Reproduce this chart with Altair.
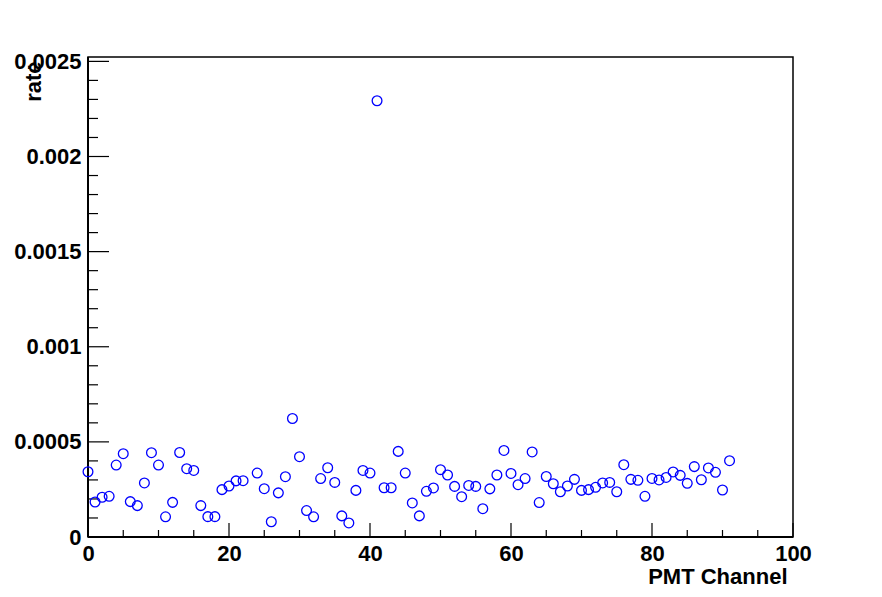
import altair as alt
import pandas as pd

channels = [0, 1, 2, 3, 4, 5, 6, 7, 8, 9, 10, 11, 12, 13, 14, 15, 16, 17, 18, 19,
            20, 21, 22, 24, 25, 26, 27, 28, 29, 30, 31, 32, 33, 34, 35, 36, 37, 38, 39,
            40, 41, 42, 43, 44, 45, 46, 47, 48, 49, 50, 51, 52, 53, 54, 55, 56, 57, 58, 59,
            60, 61, 62, 63, 64, 65, 66, 67, 68, 69, 70, 71, 72, 73, 74, 75, 76, 77, 78, 79,
            80, 81, 82, 83, 84, 85, 86, 87, 88, 89, 90, 91]
rates = [3.43e-4, 1.84e-4, 2.09e-4, 2.14e-4, 3.78e-4, 4.38e-4, 1.86e-4, 1.65e-4, 2.84e-4, 4.43e-4,
         3.78e-4, 1.06e-4, 1.82e-4, 4.44e-4, 3.59e-4, 3.50e-4, 1.65e-4, 1.07e-4, 1.07e-4, 2.49e-4,
         2.68e-4, 2.95e-4, 2.96e-4, 3.36e-4, 2.54e-4, 0.80e-4, 2.32e-4, 3.17e-4, 6.23e-4,
         4.22e-4, 1.39e-4, 1.06e-4, 3.07e-4, 3.64e-4, 2.87e-4, 1.11e-4, 0.74e-4, 2.45e-4, 3.50e-4,
         3.36e-4, 22.93e-4, 2.59e-4, 2.59e-4, 4.50e-4, 3.36e-4, 1.79e-4, 1.11e-4, 2.40e-4, 2.58e-4,
         3.54e-4, 3.26e-4, 2.66e-4, 2.12e-4, 2.71e-4, 2.66e-4, 1.49e-4, 2.53e-4, 3.26e-4, 4.55e-4,
         3.34e-4, 2.75e-4, 3.07e-4, 4.47e-4, 1.81e-4, 3.18e-4, 2.80e-4, 2.38e-4, 2.68e-4, 3.03e-4,
         2.45e-4, 2.49e-4, 2.61e-4, 2.84e-4, 2.87e-4, 2.38e-4, 3.80e-4, 3.03e-4, 2.98e-4, 2.14e-4,
         3.08e-4, 3.00e-4, 3.13e-4, 3.42e-4, 3.24e-4, 2.82e-4, 3.70e-4, 3.01e-4, 3.63e-4, 3.40e-4,
         2.47e-4, 4.01e-4]

x_major = [0, 20, 40, 60, 80, 100]
x_minor = [5, 10, 15, 25, 30, 35, 45, 50, 55, 65, 70, 75, 85, 90, 95]
y_major = [0, 0.0005, 0.001, 0.0015, 0.002, 0.0025]
y_minor = [round(i * 0.0001, 4) for i in range(1, 26) if i % 5 != 0]

W, H = 705, 480
XDOM = [0, 100]
YDOM = [0, 0.002523]
FONT = "Liberation Sans"

df = pd.DataFrame({"ch": channels, "rate": rates})

xs = alt.Scale(domain=XDOM, nice=False, zero=False)
ys = alt.Scale(domain=YDOM, nice=False, zero=False)

points = alt.Chart(df).mark_point(
    shape="circle", filled=False, color="#0000ff", size=95, strokeWidth=1.3, opacity=1
).encode(
    x=alt.X("ch:Q", scale=xs, axis=alt.Axis(
        values=x_major, tickSize=0, domain=False, grid=False, labelFont=FONT,
        labelFontWeight="bold", labelFontSize=22, labelColor="black", labelPadding=6,
        labelFlush=False, title="PMT Channel", titleFont=FONT, titleFontSize=22,
        titleFontWeight="bold", titleColor="black", titleAlign="right", titleAnchor="end",
        titleX=699, titleY=46, titleBaseline="alphabetic")),
    y=alt.Y("rate:Q", scale=ys, axis=alt.Axis(
        values=y_major, tickSize=0, domain=False, grid=False, format="~g", labelFont=FONT,
        labelFontWeight="bold", labelFontSize=22, labelColor="black", labelPadding=7,
        labelFlush=False, title="rate", titleFont=FONT, titleFontSize=22,
        titleFontWeight="bold", titleColor="black", titleAngle=270, titleAlign="right",
        titleX=-48, titleY=4, titleBaseline="alphabetic")),
)

xmaj = alt.Chart(pd.DataFrame({"v": x_major})).mark_rule(color="black", strokeWidth=1.2).encode(
    x=alt.X("v:Q", scale=xs), y=alt.value(H), y2=alt.value(H - 14))
xmin = alt.Chart(pd.DataFrame({"v": x_minor})).mark_rule(color="black", strokeWidth=1.2).encode(
    x=alt.X("v:Q", scale=xs), y=alt.value(H), y2=alt.value(H - 7))
ymaj = alt.Chart(pd.DataFrame({"v": y_major})).mark_rule(color="black", strokeWidth=1.2).encode(
    y=alt.Y("v:Q", scale=ys), x=alt.value(0), x2=alt.value(21))
ymin = alt.Chart(pd.DataFrame({"v": y_minor})).mark_rule(color="black", strokeWidth=1.2).encode(
    y=alt.Y("v:Q", scale=ys), x=alt.value(0), x2=alt.value(10))

left_axis = alt.Chart(pd.DataFrame({"v": [0]})).mark_rule(color="black", strokeWidth=2).encode(
    x=alt.value(0), y=alt.value(0), y2=alt.value(H))
bottom_axis = alt.Chart(pd.DataFrame({"v": [0]})).mark_rule(color="black", strokeWidth=2).encode(
    x=alt.value(0), x2=alt.value(W), y=alt.value(H))

chart = alt.layer(xmin, xmaj, ymin, ymaj, left_axis, bottom_axis, points).properties(
    width=W, height=H,
    autosize=alt.AutoSizeParams(type="none"),
    padding={"left": 80, "top": 49, "right": 70, "bottom": 50},
    background="white",
).configure_view(stroke="black", strokeWidth=1.5).configure_axis(labelOverlap=False)

chart.save("out.html", embed_options={"renderer": "svg", "actions": False})
